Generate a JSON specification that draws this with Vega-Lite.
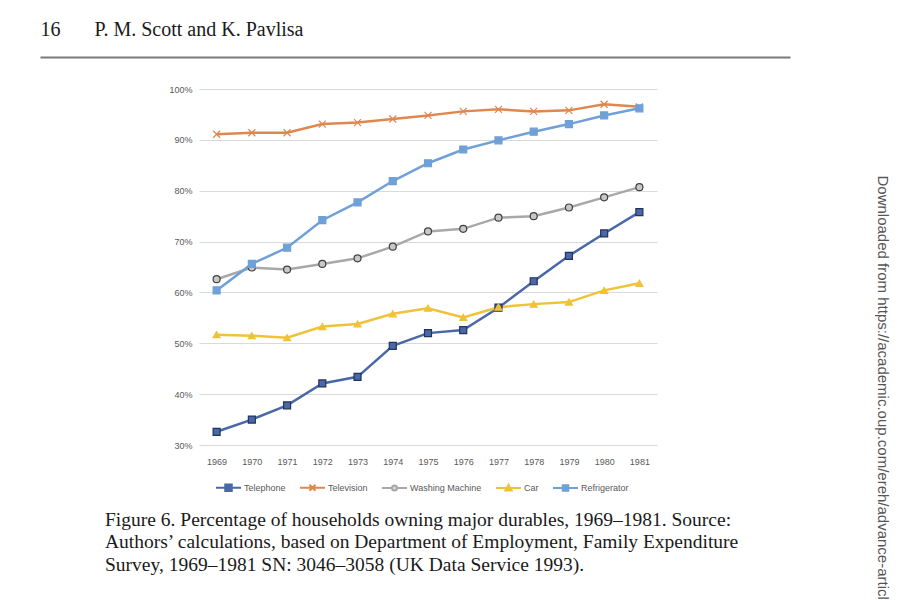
{
  "$schema": "https://vega.github.io/schema/vega-lite/v6.json",
  "width": 458,
  "height": 356,
  "autosize": {"type": "none"},
  "padding": {"left": 199, "top": 89, "right": 256, "bottom": 155},
  "background": "white",
  "config": {"view": {"stroke": null}},
  "title": {
    "text": [
      "Figure 6. Percentage of households owning major durables, 1969–1981. Source:",
      "Authors’ calculations, based on Department of Employment, Family Expenditure",
      "Survey, 1969–1981 SN: 3046–3058 (UK Data Service 1993)."
    ],
    "orient": "bottom",
    "anchor": "start",
    "frame": "group",
    "dx": -94,
    "offset": -97,
    "font": "Liberation Serif",
    "fontSize": 19.5,
    "fontWeight": "normal",
    "color": "#1a1a1a",
    "lineHeight": 22.5
  },
  "data": {
    "values": [
      {"year": "1969", "series": "Telephone", "value": 32.6},
      {"year": "1970", "series": "Telephone", "value": 35.0},
      {"year": "1971", "series": "Telephone", "value": 37.8},
      {"year": "1972", "series": "Telephone", "value": 42.1},
      {"year": "1973", "series": "Telephone", "value": 43.4},
      {"year": "1974", "series": "Telephone", "value": 49.5},
      {"year": "1975", "series": "Telephone", "value": 52.0},
      {"year": "1976", "series": "Telephone", "value": 52.6},
      {"year": "1977", "series": "Telephone", "value": 57.0},
      {"year": "1978", "series": "Telephone", "value": 62.2},
      {"year": "1979", "series": "Telephone", "value": 67.2},
      {"year": "1980", "series": "Telephone", "value": 71.6},
      {"year": "1981", "series": "Telephone", "value": 75.8},
      {"year": "1969", "series": "Television", "value": 91.1},
      {"year": "1970", "series": "Television", "value": 91.4},
      {"year": "1971", "series": "Television", "value": 91.4},
      {"year": "1972", "series": "Television", "value": 93.1},
      {"year": "1973", "series": "Television", "value": 93.4},
      {"year": "1974", "series": "Television", "value": 94.1},
      {"year": "1975", "series": "Television", "value": 94.8},
      {"year": "1976", "series": "Television", "value": 95.6},
      {"year": "1977", "series": "Television", "value": 96.0},
      {"year": "1978", "series": "Television", "value": 95.6},
      {"year": "1979", "series": "Television", "value": 95.8},
      {"year": "1980", "series": "Television", "value": 97.0},
      {"year": "1981", "series": "Television", "value": 96.5},
      {"year": "1969", "series": "Washing Machine", "value": 62.6},
      {"year": "1970", "series": "Washing Machine", "value": 64.9},
      {"year": "1971", "series": "Washing Machine", "value": 64.5},
      {"year": "1972", "series": "Washing Machine", "value": 65.6},
      {"year": "1973", "series": "Washing Machine", "value": 66.7},
      {"year": "1974", "series": "Washing Machine", "value": 69.0},
      {"year": "1975", "series": "Washing Machine", "value": 72.0},
      {"year": "1976", "series": "Washing Machine", "value": 72.5},
      {"year": "1977", "series": "Washing Machine", "value": 74.7},
      {"year": "1978", "series": "Washing Machine", "value": 75.0},
      {"year": "1979", "series": "Washing Machine", "value": 76.7},
      {"year": "1980", "series": "Washing Machine", "value": 78.7},
      {"year": "1981", "series": "Washing Machine", "value": 80.7},
      {"year": "1969", "series": "Car", "value": 51.7},
      {"year": "1970", "series": "Car", "value": 51.5},
      {"year": "1971", "series": "Car", "value": 51.1},
      {"year": "1972", "series": "Car", "value": 53.3},
      {"year": "1973", "series": "Car", "value": 53.8},
      {"year": "1974", "series": "Car", "value": 55.8},
      {"year": "1975", "series": "Car", "value": 56.9},
      {"year": "1976", "series": "Car", "value": 55.1},
      {"year": "1977", "series": "Car", "value": 57.1},
      {"year": "1978", "series": "Car", "value": 57.7},
      {"year": "1979", "series": "Car", "value": 58.1},
      {"year": "1980", "series": "Car", "value": 60.4},
      {"year": "1981", "series": "Car", "value": 61.8},
      {"year": "1969", "series": "Refrigerator", "value": 60.4},
      {"year": "1970", "series": "Refrigerator", "value": 65.6},
      {"year": "1971", "series": "Refrigerator", "value": 68.8},
      {"year": "1972", "series": "Refrigerator", "value": 74.2},
      {"year": "1973", "series": "Refrigerator", "value": 77.7},
      {"year": "1974", "series": "Refrigerator", "value": 81.9},
      {"year": "1975", "series": "Refrigerator", "value": 85.4},
      {"year": "1976", "series": "Refrigerator", "value": 88.1},
      {"year": "1977", "series": "Refrigerator", "value": 89.9},
      {"year": "1978", "series": "Refrigerator", "value": 91.6},
      {"year": "1979", "series": "Refrigerator", "value": 93.1},
      {"year": "1980", "series": "Refrigerator", "value": 94.8},
      {"year": "1981", "series": "Refrigerator", "value": 96.2}
    ]
  },
  "layer": [
    {
      "encoding": {
        "x": {
          "field": "year",
          "type": "ordinal",
          "scale": {"type": "point", "padding": 0.5},
          "axis": {
            "title": null,
            "labelAngle": 0,
            "ticks": false,
            "tickSize": 0,
            "domain": false,
            "grid": false,
            "labelPadding": 12,
            "labelFont": "Liberation Sans",
            "labelFontSize": 9,
            "labelColor": "#595959"
          }
        },
        "y": {
          "field": "value",
          "type": "quantitative",
          "scale": {"domain": [30, 100], "nice": false, "zero": false},
          "axis": {
            "title": null,
            "values": [30, 40, 50, 60, 70, 80, 90, 100],
            "labelExpr": "datum.value + '%'",
            "ticks": false,
            "tickSize": 0,
            "domain": false,
            "grid": true,
            "gridColor": "#d9d9d9",
            "gridWidth": 1,
            "labelPadding": 7,
            "labelFont": "Liberation Sans",
            "labelFontSize": 9,
            "labelColor": "#595959"
          }
        }
      },
      "layer": [
        {
          "mark": {"type": "line", "strokeWidth": 2.5},
          "encoding": {
            "color": {
              "field": "series",
              "type": "nominal",
              "scale": {
                "domain": ["Telephone", "Television", "Washing Machine", "Car", "Refrigerator"],
                "range": ["#4a67a8", "#e0874e", "#a8a8a8", "#f0c23a", "#6fa0d8"]
              },
              "legend": {
                "title": null,
                "orient": "bottom",
                "direction": "horizontal",
                "offset": -8,
                "padding": 16,
                "symbolSize": 625,
                "symbolStrokeWidth": 2,
                "labelFont": "Liberation Sans",
                "labelFontSize": 9,
                "labelColor": "#595959",
                "labelOffset": 2,
                "columnPadding": 10,
                "encode": {
                  "symbols": {
                    "update": {
                      "shape": {"signal": "datum.value === 'Telephone' ? 'M-1,0H1M-0.26,-0.26H0.26V0.26H-0.26Z' : datum.value === 'Television' ? 'M-1,0H1M-0.24,-0.24L0.24,0.24M-0.24,0.24L0.24,-0.24' : datum.value === 'Washing Machine' ? 'M-1,0H-0.2M0.2,0H1M0.2,0A0.2,0.2 0 1,1 -0.2,0A0.2,0.2 0 1,1 0.2,0Z' : datum.value === 'Car' ? 'M-1,0H1M-0.26,0.2L0,-0.26L0.26,0.2Z' : 'M-1,0H1M-0.22,-0.22H0.22V0.22H-0.22Z'"},
                      "fill": {"signal": "datum.value === 'Telephone' ? '#4a67a8' : datum.value === 'Washing Machine' ? '#d8d8d8' : datum.value === 'Car' ? '#f0c23a' : datum.value === 'Refrigerator' ? '#6fa0d8' : 'transparent'"},
                      "strokeWidth": {"value": 2}
                    }
                  }
                }
              }
            }
          }
        },
        {
          "mark": {"type": "point", "filled": true, "size": 49, "strokeWidth": 1.2, "opacity": 1},
          "encoding": {
            "shape": {
              "field": "series",
              "type": "nominal",
              "scale": {
                "range": ["triangle-up", "square", "square", "M-1,-1L1,1M-1,1L1,-1", "circle"]
              },
              "legend": null
            },
            "fill": {
              "field": "series",
              "type": "nominal",
              "scale": {
                "range": ["#f0c23a", "#6fa0d8", "#4a67a8", "#e0874e", "#c8c8c8"]
              },
              "legend": null
            },
            "stroke": {
              "field": "series",
              "type": "nominal",
              "scale": {
                "range": ["#f0c23a", "#6fa0d8", "#22335e", "#e0874e", "#404040"]
              },
              "legend": null
            }
          }
        }
      ]
    },
    {
      "mark": {"type": "point", "opacity": 0},
      "encoding": {
        "x": {
          "field": "value",
          "type": "quantitative",
          "scale": {"range": [-159, 591], "zero": false, "nice": false},
          "axis": {
            "orient": "top",
            "offset": 32,
            "labels": false,
            "ticks": false,
            "grid": false,
            "domain": true,
            "domainColor": "#7a7a7a",
            "domainWidth": 2,
            "title": "16\u2003\u2002\u2009P. M. Scott and K. Pavlisa",
            "titleAnchor": "start",
            "titleAlign": "left",
            "titlePadding": 18,
            "titleFont": "Liberation Serif",
            "titleFontSize": 20,
            "titleFontWeight": "normal",
            "titleColor": "#1a1a1a"
          }
        },
        "y": {
          "field": "value",
          "type": "quantitative",
          "axis": {
            "orient": "right",
            "labels": false,
            "ticks": false,
            "grid": false,
            "domain": false,
            "title": "Downloaded from https://academic.oup.com/ereh/advance-article",
            "titleAngle": 90,
            "titleAlign": "left",
            "titleBaseline": "middle",
            "titleX": 225,
            "titleY": 86,
            "titleFont": "Liberation Sans",
            "titleFontSize": 15,
            "titleFontWeight": "normal",
            "titleColor": "#555555"
          }
        }
      }
    }
  ],
  "resolve": {"scale": {"x": "independent", "y": "independent"}}
}
